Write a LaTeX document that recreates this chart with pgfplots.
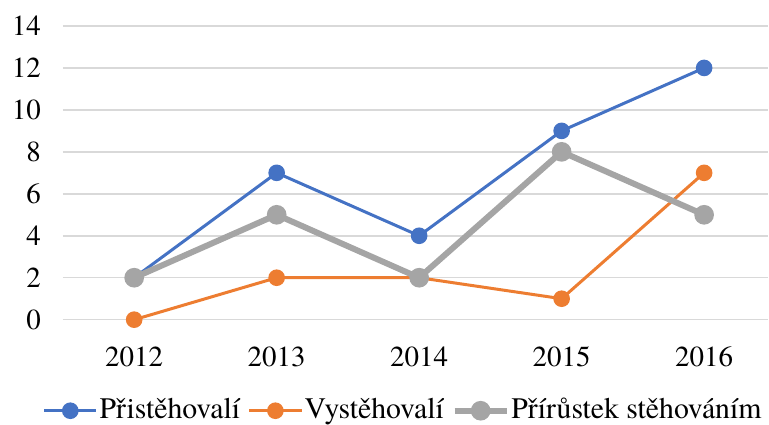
\documentclass[border=0pt]{standalone}
\usepackage{pgfplots}
\pgfplotsset{compat=1.18}
\usepackage{fontspec}
\setmainfont{texgyretermes-regular.otf}
\definecolor{cBlue}{HTML}{4472C4}
\definecolor{cOrange}{HTML}{ED7D31}
\definecolor{cGray}{HTML}{A5A5A5}
\definecolor{cGrid}{HTML}{D9D9D9}
\begin{document}
\rmfamily\fontsize{14.5}{16}\selectfont
\begin{tikzpicture}
\begin{axis}[
    scale only axis,
    width=353pt, height=147pt,
    xmin=-0.5, xmax=4.45,
    ymin=0, ymax=14,
    xtick={0,1,2,3,4},
    xticklabels={2012,2013,2014,2015,2016},
    ytick={0,2,...,14},
    /pgf/number format/assume math mode=true,
    tick label style={font=\rmfamily\fontsize{14.5}{16}\selectfont},
    major tick length=0pt,
    axis line style={draw=none},
    ymajorgrids,
    grid style={cGrid, line width=0.75pt},
    yticklabel style={xshift=-6pt},
    xticklabel style={yshift=-8.5pt},
    legend columns=3,
    legend style={draw=none, fill=none, at={(0.482,-0.31)}, anchor=center,
        font=\rmfamily\fontsize{14.9}{17}\selectfont,
        nodes={inner sep=0.8pt},
        /tikz/every even column/.append style={column sep=3pt},
        inner sep=0pt},
    legend image code/.code={\draw[mark repeat=2,mark phase=2] plot coordinates {(0cm,0cm) (0.46cm,0cm) (0.92cm,0cm)};},
]
\addplot[cBlue, line width=1.5pt, mark=*, mark size=3.4pt] coordinates {(0,2) (1,7) (2,4) (3,9) (4,12)};
\addplot[cOrange, line width=1.5pt, mark=*, mark size=3.4pt] coordinates {(0,0) (1,2) (2,2) (3,1) (4,7)};
\addplot[cGray, line width=3pt, mark=*, mark size=3.4pt] coordinates {(0,2) (1,5) (2,2) (3,8) (4,5)};
\legend{Přistěhovalí, Vystěhovalí, Přírůstek stěhováním}
\end{axis}
\path ([shift={(-31.5pt,-51.5pt)}]current axis.south west) rectangle ([shift={(0pt,13pt)}]current axis.north east);
\end{tikzpicture}
\end{document}
